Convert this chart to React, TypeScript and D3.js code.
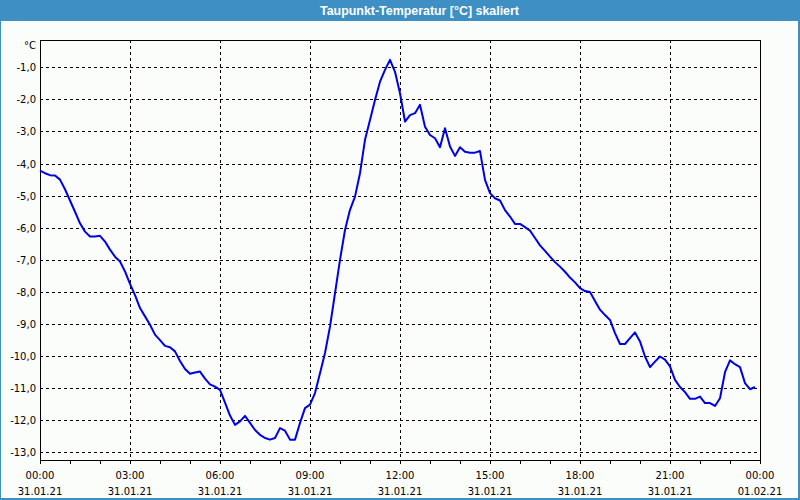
import React from "react";
import * as d3 from "d3";

const title = "Taupunkt-Temperatur [°C] skaliert";
const unitLabel = "°C";
const startTime = new Date(2021, 0, 31, 0, 0);
const stepMinutes = 10;
const dewPoint = [
  -4.22, -4.30, -4.36, -4.37, -4.50, -4.80, -5.15, -5.50, -5.86, -6.12,
  -6.27, -6.27, -6.25, -6.43, -6.68, -6.90, -7.05, -7.36, -7.75, -8.10,
  -8.50, -8.76, -9.02, -9.33, -9.50, -9.68, -9.72, -9.85, -10.15, -10.40,
  -10.55, -10.51, -10.48, -10.70, -10.88, -10.95, -11.05, -11.45, -11.85, -12.14,
  -12.03, -11.86, -12.08, -12.30, -12.45, -12.55, -12.60, -12.55, -12.24, -12.32,
  -12.60, -12.60, -12.08, -11.62, -11.51, -11.15, -10.53, -9.90, -9.08, -8.04,
  -7.00, -6.07, -5.44, -5.03, -4.30, -3.26, -2.64, -2.02, -1.45, -1.08,
  -0.77, -1.14, -1.81, -2.69, -2.49, -2.43, -2.17, -2.85, -3.11, -3.21,
  -3.49, -2.90, -3.47, -3.76, -3.49, -3.63, -3.66, -3.66, -3.61, -4.51,
  -4.92, -5.08, -5.15, -5.45, -5.65, -5.88, -5.88, -5.98, -6.09, -6.32,
  -6.55, -6.72, -6.90, -7.07, -7.21, -7.37, -7.55, -7.70, -7.88, -7.97,
  -8.00, -8.28, -8.55, -8.72, -8.87, -9.28, -9.62, -9.62, -9.44, -9.26,
  -9.54, -10.01, -10.34, -10.17, -10.01, -10.11, -10.32, -10.74, -10.96, -11.12,
  -11.33, -11.33, -11.26, -11.46, -11.46, -11.55, -11.31, -10.50, -10.13, -10.25,
  -10.34, -10.84, -11.03, -10.96,
];
const yTicks = [-1, -2, -3, -4, -5, -6, -7, -8, -9, -10, -11, -12, -13];
const yDomain = [-13.25, -0.15];
const xTickHours = [0, 3, 6, 9, 12, 15, 18, 21, 24];

const W = 800;
const H = 500;
const M = { left: 40, top: 40, right: 760, bottom: 460.5 };

export default function App() {
  const t0 = startTime.getTime();
  const x = d3
    .scaleTime()
    .domain([startTime, new Date(t0 + 24 * 3600 * 1000)])
    .range([M.left, M.right]);
  const y = d3.scaleLinear().domain(yDomain).range([M.bottom, M.top]);
  const pts = dewPoint.map((v, i) => ({
    t: new Date(t0 + i * stepMinutes * 60000),
    v,
  }));
  const line = d3
    .line<{ t: Date; v: number }>()
    .x((d) => x(d.t))
    .y((d) => y(d.v));
  const fmtNum = (v: number) => v.toFixed(1).replace(".", ",");
  const fmtTime = d3.timeFormat("%H:%M");
  const fmtDate = d3.timeFormat("%d.%m.%y");
  const hourTicks = d3.range(0, 25).map((h) => new Date(t0 + h * 3600000));
  const majorTicks = xTickHours.map((h) => new Date(t0 + h * 3600000));
  const font = "'DejaVu Sans', Verdana, sans-serif";
  const r = (v: number) => Math.round(v) + 0.5;

  return (
    <svg
      width={W}
      height={H}
      style={{ position: "fixed", left: 0, top: 0 }}
      fontFamily={font}
    >
      <rect x={0} y={0} width={W} height={H} fill="#3d8fc4" />
      <rect x={1} y={21} width={797} height={477} fill="#fbfdfb" />
      <text
        x={419.5}
        y={15}
        textAnchor="middle"
        fill="#ffffff"
        fontWeight="bold"
        fontSize={12.5}
        textLength={199}
        lengthAdjust="spacingAndGlyphs"
        fontFamily="'Liberation Sans', Arial, sans-serif"
      >
        {title}
      </text>
      {/* horizontal grid */}
      {yTicks.map((t) => (
        <line
          key={"h" + t}
          x1={M.left}
          x2={M.right}
          y1={r(y(t))}
          y2={r(y(t))}
          stroke="#000"
          strokeDasharray="3,3"
          shapeRendering="crispEdges"
        />
      ))}
      {/* vertical grid */}
      {majorTicks.slice(1, -1).map((t, i) => (
        <line
          key={"v" + i}
          x1={r(x(t))}
          x2={r(x(t))}
          y1={M.top}
          y2={M.bottom}
          stroke="#000"
          strokeDasharray="3,3"
          shapeRendering="crispEdges"
        />
      ))}
      {/* frame */}
      <rect
        x={M.left + 0.5}
        y={M.top + 0.5}
        width={M.right - M.left}
        height={M.bottom - M.top - 0.5}
        fill="none"
        stroke="#000"
        shapeRendering="crispEdges"
      />
      {/* hour ticks */}
      {hourTicks.map((t, i) => (
        <line
          key={"t" + i}
          x1={r(x(t))}
          x2={r(x(t))}
          y1={M.bottom}
          y2={M.bottom + 3}
          stroke="#000"
          shapeRendering="crispEdges"
        />
      ))}
      {/* y labels */}
      {yTicks.map((t) => (
        <text
          key={"yl" + t}
          x={36}
          y={y(t) + 4}
          textAnchor="end"
          fontSize={10}
          fill="#000"
        >
          {fmtNum(t)}
        </text>
      ))}
      <text x={36} y={49} textAnchor="end" fontSize={10} fill="#000">
        {unitLabel}
      </text>
      {/* x labels */}
      {majorTicks.map((t, i) => (
        <g key={"xl" + i}>
          <text x={x(t)} y={479} textAnchor="middle" fontSize={10} fill="#000">
            {fmtTime(t)}
          </text>
          <text x={x(t)} y={495} textAnchor="middle" fontSize={10} fill="#000">
            {fmtDate(t)}
          </text>
        </g>
      ))}
      <path
        d={line(pts) || ""}
        fill="none"
        stroke="#0000e6"
        strokeWidth={2}
        strokeLinejoin="round"
      />
    </svg>
  );
}
